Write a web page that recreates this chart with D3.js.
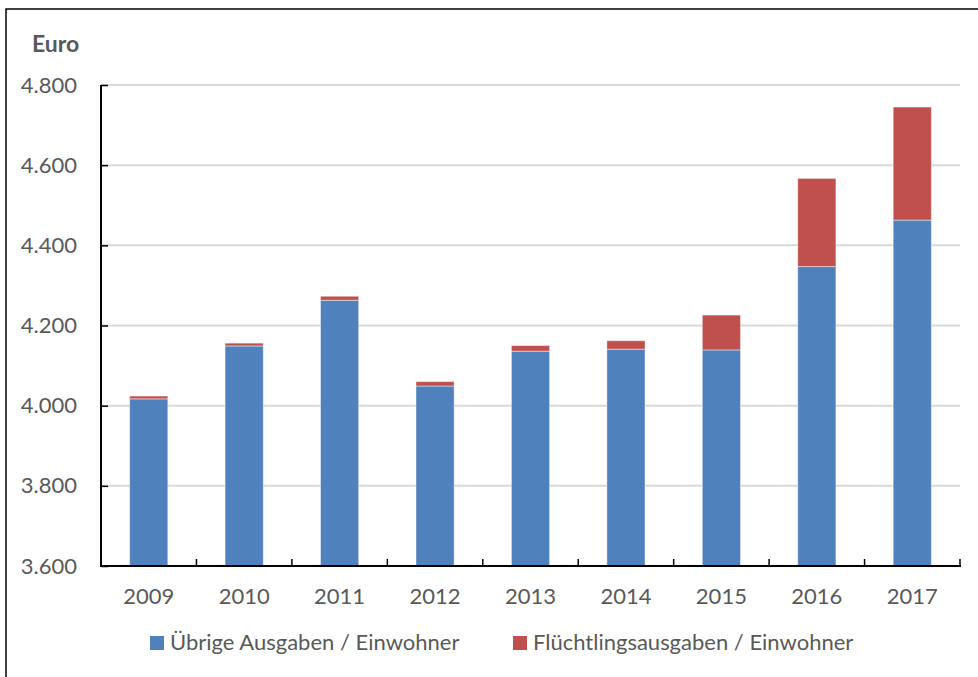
<!DOCTYPE html>
<html>
<head>
<meta charset="utf-8">
<script src="https://cdn.jsdelivr.net/npm/d3@7"></script>
<style>
  html, body { margin: 0; padding: 0; background: #fff; }
  svg { display: block; }
  text { font-family: Lato, "Open Sans", sans-serif; fill: #595959; }
</style>
</head>
<body>
<svg id="chart" width="978" height="677"></svg>
<script>
// Ausgaben je Einwohner, 2009–2017 (Euro)
const years = ["2009", "2010", "2011", "2012", "2013", "2014", "2015", "2016", "2017"];
const uebrige = [4017, 4149, 4263, 4049, 4136, 4141, 4139, 4347, 4463];
const fluechtlinge = [7, 7, 10, 11, 14, 21, 87, 220, 282];
const yTicks = [3600, 3800, 4000, 4200, 4400, 4600, 4800];
const seriesNames = ["Übrige Ausgaben / Einwohner", "Flüchtlingsausgaben / Einwohner"];
const seriesColors = ["#4f81bd", "#c0504d"];

const svg = d3.select("#chart");
const W = 978, H = 677;
const m = { left: 101, right: 18, top: 85, bottom: 111 };
const plotW = W - m.left - m.right;   // 859
const plotH = H - m.top - m.bottom;   // 481
const fontSize = 22;

const fmt = d3.format(",.0f");
const deFmt = v => fmt(v).replace(/,/g, ".");

// outer frame (top and left edges)
svg.append("path")
  .attr("d", "M6,677 V9 H978")
  .attr("fill", "none").attr("stroke", "#000").attr("stroke-width", 1.5);

const x = d3.scaleBand().domain(years).range([m.left, m.left + plotW]).paddingInner(0.6).paddingOuter(0.3);
const xOuter = d3.scaleBand().domain(years).range([m.left, m.left + plotW]);
const y = d3.scaleLinear().domain([3600, 4800]).range([m.top + plotH, m.top]);

// gridlines
svg.append("g")
  .selectAll("line").data(yTicks.slice(1)).join("line")
  .attr("x1", m.left).attr("x2", m.left + plotW)
  .attr("y1", d => y(d)).attr("y2", d => y(d))
  .attr("stroke", "#d9d9d9").attr("stroke-width", 2);

// stacked bars
const table = years.map((yr, i) => ({ year: yr, a: uebrige[i], b: fluechtlinge[i] }));
const stack = d3.stack().keys(["a", "b"]);
const layers = stack(table);
// the value axis starts at 3.600, so stacks begin from there
svg.append("g").selectAll("g").data(layers).join("g")
  .attr("fill", (d, i) => seriesColors[i])
  .selectAll("rect").data(d => d).join("rect")
  .attr("x", d => x(d.data.year))
  .attr("width", x.bandwidth())
  .attr("y", d => y(d[1]))
  .attr("height", d => y(Math.max(d[0], 3600)) - y(d[1]))
  .attr("stroke", "rgba(255,255,255,0.45)").attr("stroke-width", 1);

// y axis
const yAxis = d3.axisLeft(y).tickValues(yTicks).tickSize(-7).tickPadding(24).tickFormat(deFmt);
const gy = svg.append("g").attr("transform", `translate(${m.left},0)`).call(yAxis);
gy.select(".domain").attr("stroke", "#000").attr("stroke-width", 2).attr("d", `M0,${m.top}V${m.top + plotH}`);
gy.selectAll(".tick line").attr("stroke", "#000").attr("stroke-width", 1.5);
gy.selectAll(".tick text").attr("font-size", fontSize).attr("font-family", "Lato, 'Open Sans', sans-serif").attr("fill", "#595959");

// x axis: ticks between categories, pointing inward
const boundaries = years.map(yr => xOuter(yr)).concat([m.left + plotW]);
const gx = svg.append("g");
gx.selectAll("line").data(boundaries.slice(1)).join("line")
  .attr("x1", d => d).attr("x2", d => d)
  .attr("y1", m.top + plotH).attr("y2", m.top + plotH - 7)
  .attr("stroke", "#000").attr("stroke-width", 1.5);
gx.append("line")
  .attr("x1", m.left - 1).attr("x2", m.left + plotW + 1)
  .attr("y1", m.top + plotH).attr("y2", m.top + plotH)
  .attr("stroke", "#000").attr("stroke-width", 2);
gx.selectAll("text").data(years).join("text")
  .attr("x", d => x(d) + x.bandwidth() / 2)
  .attr("y", m.top + plotH + 38)
  .attr("text-anchor", "middle")
  .attr("font-size", fontSize)
  .text(d => d);

// unit label
svg.append("text").attr("x", 32).attr("y", 52)
  .attr("font-size", 23).attr("font-weight", "bold").text("Euro");

// legend
const legendX = [150, 513];
const legend = svg.append("g").selectAll("g").data(seriesNames).join("g")
  .attr("transform", (d, i) => `translate(${legendX[i]},636)`);
legend.append("rect").attr("width", 14).attr("height", 14).attr("fill", (d, i) => seriesColors[i]);
legend.append("text").attr("x", 20).attr("y", 14).attr("font-size", fontSize).text(d => d);
</script>
</body>
</html>
